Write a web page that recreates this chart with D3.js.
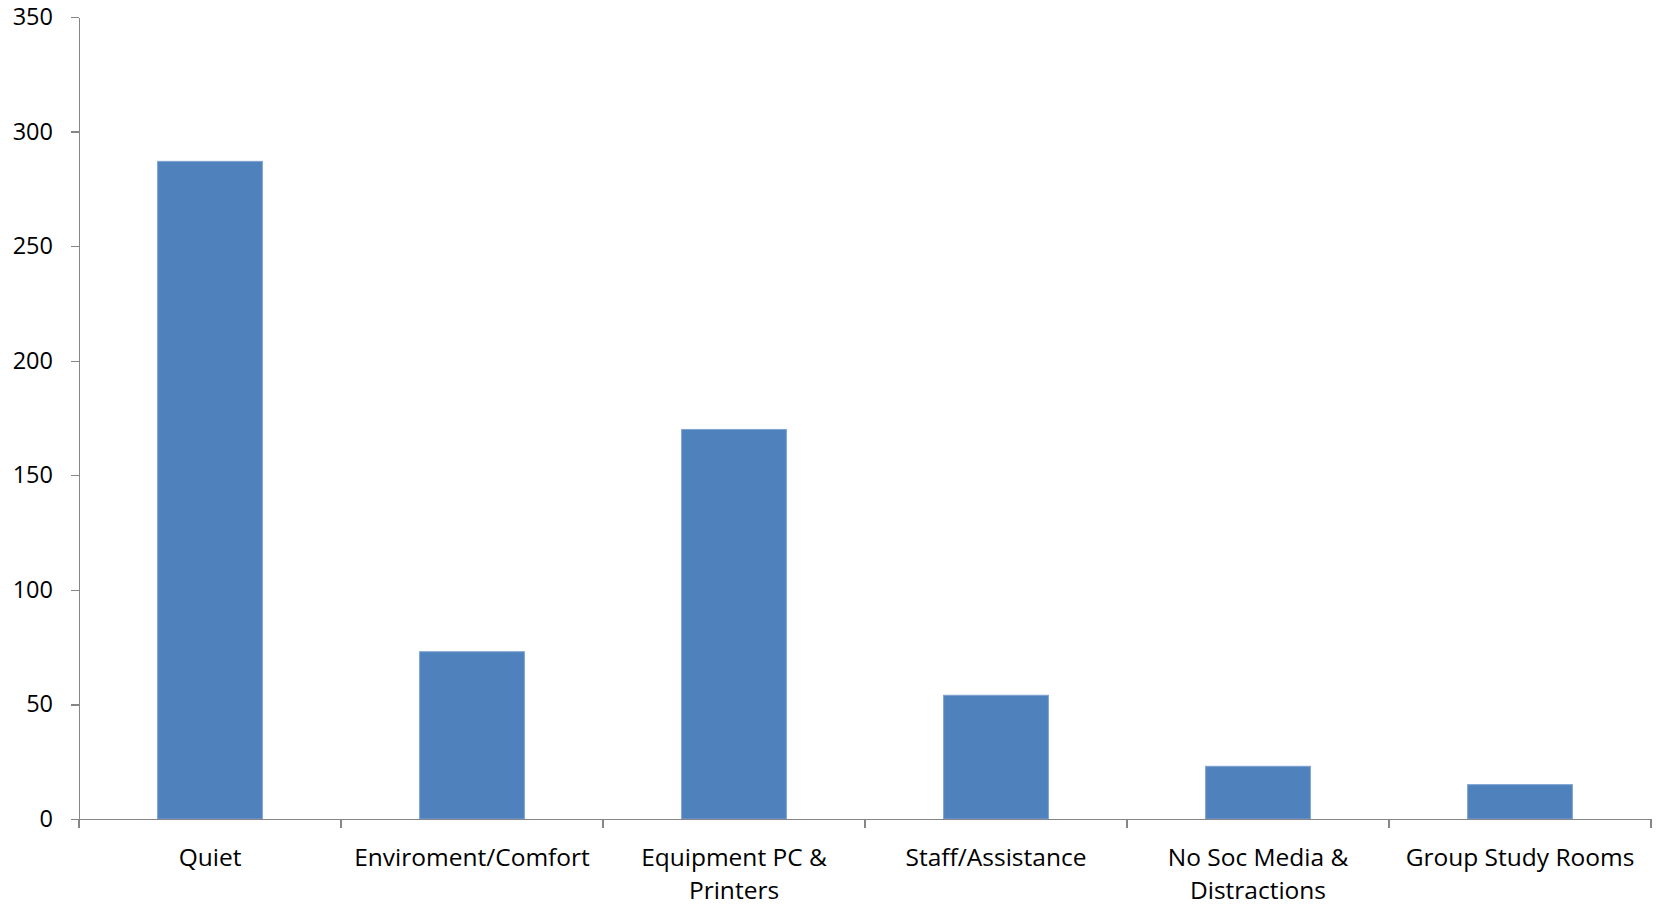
<!DOCTYPE html>
<html>
<head>
<meta charset="utf-8">
<script src="https://cdn.jsdelivr.net/npm/d3@7"></script>
<style>
  html, body { margin: 0; padding: 0; background: #fff; }
  svg { display: block; }
  .axis text { font-family: "Open Sans", sans-serif; fill: #000; }
  .axis path, .axis line { stroke: #868686; stroke-width: 1.3; shape-rendering: crispEdges; }
</style>
</head>
<body>
<svg id="chart" width="1656" height="906"></svg>
<script>
// Survey responses: what students value most in the library
const categories = [
  "Quiet",
  "Enviroment/Comfort",
  "Equipment PC & Printers",
  "Staff/Assistance",
  "No Soc Media & Distractions",
  "Group Study Rooms"
];
const counts = [287, 73, 170, 54, 23, 15];
const yTicks = [0, 50, 100, 150, 200, 250, 300, 350];

const width = 1656, height = 906;
const margin = { top: 17, right: 5, bottom: 87, left: 79 };
const innerW = width - margin.left - margin.right;
const innerH = height - margin.top - margin.bottom;

const svg = d3.select("#chart");
const g = svg.append("g").attr("transform", `translate(${margin.left},${margin.top})`);

const x = d3.scaleBand()
  .domain(categories)
  .range([0, innerW])
  .paddingInner(0.6)
  .paddingOuter(0.3);

const y = d3.scaleLinear()
  .domain([0, 350])
  .range([innerH, 0]);

// Bars
g.selectAll("rect.bar")
  .data(categories.map((c, i) => ({ c, v: counts[i] })))
  .join("rect")
  .attr("class", "bar")
  .attr("x", d => x(d.c))
  .attr("y", d => y(d.v))
  .attr("width", x.bandwidth())
  .attr("height", d => y(0) - y(d.v))
  .attr("fill", "#4f81bd")
  .attr("stroke", "#7ea3d2")
  .attr("stroke-width", 1);

// Y axis
const yAxis = g.append("g")
  .attr("class", "axis")
  .call(d3.axisLeft(y).tickValues(yTicks).tickSize(8).tickSizeOuter(0).tickPadding(18));
yAxis.selectAll("text").style("font-size", "23.5px");

// X axis: line plus tick marks on category boundaries
const xAxis = g.append("g")
  .attr("class", "axis")
  .attr("transform", `translate(0,${innerH})`)
  .call(d3.axisBottom(x).tickSize(0).tickSizeOuter(0).tickPadding(0));
xAxis.selectAll(".tick text").remove();

const step = x.step();
const gap = (step - x.bandwidth()) / 2;
const boundaries = categories.map(c => x(c) - gap).concat([x(categories[categories.length - 1]) + x.bandwidth() + gap]);
xAxis.selectAll("line.boundary")
  .data(boundaries)
  .join("line")
  .attr("class", "boundary")
  .attr("x1", d => d).attr("x2", d => d)
  .attr("y1", 0).attr("y2", 9);

// Category labels, wrapped to fit the category width
const labelSize = 24.5;
const lineHeight = 32.5;
const maxW = step * 0.95;
const labels = xAxis.selectAll("text.cat")
  .data(categories)
  .join("text")
  .attr("class", "cat")
  .attr("text-anchor", "middle")
  .style("font-size", labelSize + "px")
  .attr("transform", d => `translate(${x(d) + x.bandwidth() / 2},47)`);

labels.each(function(d) {
  const text = d3.select(this);
  const words = d.split(" ");
  let line = [];
  let lineNo = 0;
  let tspan = text.append("tspan").attr("x", 0).attr("y", 0);
  for (const w of words) {
    line.push(w);
    tspan.text(line.join(" "));
    if (tspan.node().getComputedTextLength() > maxW && line.length > 1) {
      line.pop();
      tspan.text(line.join(" "));
      line = [w];
      lineNo++;
      tspan = text.append("tspan").attr("x", 0).attr("y", lineNo * lineHeight).text(w);
    }
  }
});
</script>
</body>
</html>
